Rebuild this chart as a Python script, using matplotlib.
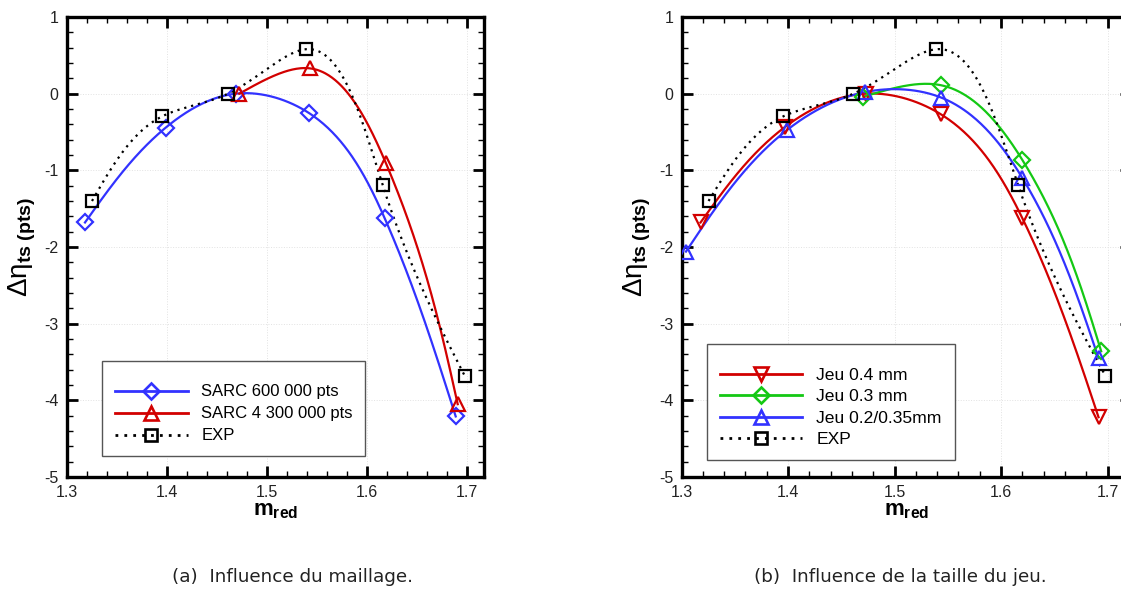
import numpy as np
import matplotlib
matplotlib.use("Agg")
import matplotlib.pyplot as plt
from matplotlib.lines import Line2D
from matplotlib.ticker import MultipleLocator

plt.rcParams['font.family'] = ['Liberation Sans', 'DejaVu Sans']
plt.rcParams['mathtext.fontset'] = 'custom'
plt.rcParams['mathtext.rm'] = 'Liberation Sans'
plt.rcParams['mathtext.bf'] = 'Liberation Sans:bold'
plt.rcParams['mathtext.it'] = 'Liberation Sans:italic'

# donnees
exp_m = [1.3253, 1.3956, 1.4613, 1.5393, 1.6160, 1.6980]
exp_d = [-1.40, -0.295, 0.0, 0.58, -1.195, -3.68]

sarc600_m = [1.3183, 1.3990, 1.4690, 1.5427, 1.6180, 1.6890]
sarc600_d = [-1.68, -0.443, 0.0, -0.256, -1.625, -4.21]

sarc4300_m = [1.4726, 1.5433, 1.6190, 1.6910]
sarc4300_d = [0.0, 0.33, -0.90, -4.05]

jeu04_m = [1.3178, 1.3975, 1.4730, 1.5436, 1.6200, 1.6915]
jeu04_d = [-1.68, -0.43, 0.0, -0.27, -1.625, -4.22]

jeu03_m = [1.4707, 1.5436, 1.6200, 1.6940]
jeu03_d = [-0.04, 0.11, -0.865, -3.36]

jeu02_m = [1.3041, 1.3994, 1.4720, 1.5436, 1.6200, 1.6915]
jeu02_d = [-2.06, -0.47, 0.02, -0.05, -1.10, -3.45]

captions = ["(a)  Influence du maillage.", "(b)  Influence de la taille du jeu."]

BLUE = '#3232ff'
RED = '#d20000'
GREEN = '#14c814'
DOT = (0, (1, 2.2))


def natural(t, v, ts):
    # spline cubique naturelle v(t) evaluee en ts
    k = len(t)
    h = np.diff(t)
    A = np.zeros((k, k))
    b = np.zeros(k)
    A[0, 0] = A[-1, -1] = 1
    for i in range(1, k - 1):
        A[i, i - 1] = h[i - 1]
        A[i, i] = 2 * (h[i - 1] + h[i])
        A[i, i + 1] = h[i]
        b[i] = 6 * ((v[i + 1] - v[i]) / h[i] - (v[i] - v[i - 1]) / h[i - 1])
    M = np.linalg.solve(A, b)
    j = np.clip(np.searchsorted(t, ts) - 1, 0, k - 2)
    t0 = t[j + 1] - ts
    t1 = ts - t[j]
    return ((M[j] * t0**3 + M[j + 1] * t1**3) / (6 * h[j])
            + (v[j] / h[j] - M[j] * h[j] / 6) * t0
            + (v[j + 1] / h[j] - M[j + 1] * h[j] / 6) * t1)


def spline(x, y, n=400):
    # spline parametrique (longueur de corde a l'ecran)
    x = np.asarray(x, float)
    y = np.asarray(y, float)
    sx, sy = x * 1000.0, y * 76.7
    t = np.concatenate([[0], np.cumsum(np.hypot(np.diff(sx), np.diff(sy)))])
    ts = np.linspace(0, t[-1], n)
    return natural(t, x, ts), natural(t, y, ts)


def courbe(ax, x, y, color, marker, ms, ls='-', lw=1.6):
    xs, ys = spline(x, y)
    ax.plot(xs, ys, color=color, ls=ls, lw=lw, zorder=2)
    ax.plot(x, y, ls='none', marker=marker, ms=ms, mfc='none', mec=color,
            mew=1.6, zorder=3)
    return Line2D([], [], color=color, ls=ls, lw=lw + 0.4, marker=marker, ms=ms,
                  mfc='none', mec=color, mew=1.9)


def habille(ax, xmax):
    ax.set_xlim(1.3, xmax)
    ax.set_ylim(-5, 1)
    ax.xaxis.set_major_locator(MultipleLocator(0.1))
    ax.xaxis.set_minor_locator(MultipleLocator(0.02))
    ax.yaxis.set_major_locator(MultipleLocator(1))
    ax.yaxis.set_minor_locator(MultipleLocator(0.2))
    ax.xaxis.set_major_formatter(plt.FuncFormatter(lambda v, p: f"{v:.1f}"))
    ax.yaxis.set_major_formatter(plt.FuncFormatter(lambda v, p: f"{v:.0f}"))
    ax.tick_params(which='both', direction='in', top=True, right=True,
                   labelsize=11.5, labelcolor='#222222')
    ax.tick_params(which='major', length=8, width=2.0, pad=6)
    ax.tick_params(which='minor', length=4.5, width=1.0)
    for s in ax.spines.values():
        s.set_linewidth(2.4)
    ax.grid(True, which='major', color='#e2e2e2', ls=':', lw=0.7)
    ax.set_axisbelow(True)
    ax.set_xlabel(r'$\mathbf{m}_{\mathbf{red}}$', fontsize=16, labelpad=0)
    ax.set_ylabel(r'Δη$_{\mathbf{ts\ (pts)}}$', fontsize=20, labelpad=4)


def legende(ax, handles, labels, x0, y0, fs, hl, sp):
    leg = ax.legend(handles, labels, loc='lower left', bbox_to_anchor=(x0, y0),
                    borderaxespad=0, fontsize=fs, handlelength=hl,
                    handletextpad=0.8, labelspacing=sp, borderpad=0.75,
                    title=' ', title_fontsize=2,
                    fancybox=False, framealpha=1, edgecolor='#555555')
    leg.get_frame().set_linewidth(1.0)
    return leg


fig = plt.figure(figsize=(11.21, 5.93), dpi=100)
ax1 = fig.add_axes([66.7 / 1121, 116 / 593, 417.3 / 1121, 460 / 593])
ax2 = fig.add_axes([681.6 / 1121, 116 / 593, 449.4 / 1121, 460 / 593])

# (a) maillage
h1 = courbe(ax1, sarc600_m, sarc600_d, BLUE, 'D', 8.6)
h2 = courbe(ax1, sarc4300_m, sarc4300_d, RED, '^', 10)
h3 = courbe(ax1, exp_m, exp_d, 'black', 's', 8.4, ls=DOT)
habille(ax1, 1.7173)
legende(ax1, [h1, h2, h3], ['SARC 600 000 pts', 'SARC 4 300 000 pts', 'EXP'],
        0.0846, 0.0457, 12, 4.4, 0.42)

# (b) taille du jeu
g1 = courbe(ax2, jeu04_m, jeu04_d, RED, 'v', 10)
g2 = courbe(ax2, jeu03_m, jeu03_d, GREEN, 'D', 8.6)
g3 = courbe(ax2, jeu02_m, jeu02_d, BLUE, '^', 10)
g4 = courbe(ax2, exp_m, exp_d, 'black', 's', 8.4, ls=DOT)
habille(ax2, 1.722)
legende(ax2, [g1, g2, g3, g4], ['Jeu 0.4 mm', 'Jeu 0.3 mm', 'Jeu 0.2/0.35mm', 'EXP'],
        0.056, 0.036, 12.6, 4.7, 0.36)

for xc, txt in zip([292, 900], captions):
    fig.text(xc / 1121, 1 - 577 / 593, txt, ha='center', va='center',
             fontsize=13.2, family=['Liberation Sans Narrow', 'DejaVu Sans'],
             color='#222222')

fig.savefig('out.png', dpi=100)
